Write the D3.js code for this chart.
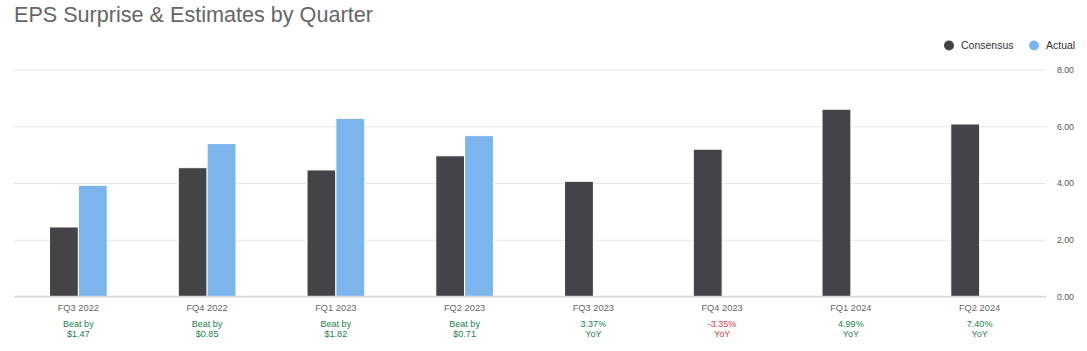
<!DOCTYPE html>
<html>
<head>
<meta charset="utf-8">
<script src="https://cdn.jsdelivr.net/npm/d3@7"></script>
<style>
  body { margin: 0; background: #fff; }
  #chart { width: 1087px; height: 351px; }
  text { font-family: "Liberation Sans", Arial, sans-serif; }
</style>
</head>
<body>
<div id="chart"></div>
<script>
// data
const quarters = ["FQ3 2022", "FQ4 2022", "FQ1 2023", "FQ2 2023", "FQ3 2023", "FQ4 2023", "FQ1 2024", "FQ2 2024"];
const consensus = [2.45, 4.54, 4.46, 4.96, 4.06, 5.19, 6.60, 6.08];
const actual = [3.92, 5.39, 6.28, 5.67, null, null, null, null];
const noteLine1 = ["Beat by", "Beat by", "Beat by", "Beat by", "3.37%", "-3.35%", "4.99%", "7.40%"];
const noteLine2 = ["$1.47", "$0.85", "$1.82", "$0.71", "YoY", "YoY", "YoY", "YoY"];
const noteNegative = [false, false, false, false, false, true, false, false];
const yTicks = [0, 2, 4, 6, 8];
const seriesNames = ["Consensus", "Actual"];
const seriesColors = ["#434348", "#7cb5ec"];

const width = 1087, height = 351;
const margin = { top: 70, right: 43, bottom: 54, left: 14 };

const svg = d3.select("#chart").append("svg")
  .attr("width", width).attr("height", height);

// title
svg.append("text")
  .attr("x", 14).attr("y", 22)
  .attr("font-size", 21.6)
  .attr("fill", "#666")
  .text("EPS Surprise & Estimates by Quarter");

// scales
const x0 = d3.scaleBand()
  .domain(quarters)
  .range([margin.left, width - margin.right])
  .padding(0);

const x1 = d3.scaleBand()
  .domain(seriesNames)
  .range([x0.bandwidth() * 0.276, x0.bandwidth() * 0.724])
  .padding(0);

const y = d3.scaleLinear()
  .domain([0, 8])
  .range([height - margin.bottom - 0.5, margin.top - 0.5]);

// grid + right labels
const yAxis = d3.axisRight(y)
  .tickValues(yTicks)
  .tickSize(-(width - margin.right - margin.left + 2))
  .tickFormat(d3.format(".2f"));

const gy = svg.append("g")
  .attr("transform", `translate(${width - margin.right + 2},0)`)
  .call(yAxis);
gy.select(".domain").remove();
gy.selectAll(".tick line").attr("stroke", "#e6e6e6");
gy.selectAll(".tick text")
  .attr("x", 11)
  .attr("fill", "#555")
  .attr("font-size", 8.7)
  .attr("font-family", "'Liberation Sans', Arial, sans-serif");

// bars
const rows = quarters.map((q, i) => ({ q, values: [consensus[i], actual[i]] }));

const groups = svg.selectAll(".group")
  .data(rows)
  .enter().append("g")
  .attr("transform", (d) => `translate(${x0(d.q)},0)`);

groups.selectAll("rect")
  .data((d) => d.values.map((v, k) => ({ name: seriesNames[k], v, k })).filter((e) => e.v != null))
  .enter().append("rect")
  .attr("x", (d) => x1(d.name))
  .attr("y", (d) => y(d.v))
  .attr("width", x1.bandwidth())
  .attr("height", (d) => y(0) - y(d.v))
  .attr("fill", (d) => seriesColors[d.k])
  .attr("stroke", "#fff")
  .attr("stroke-width", 1);

// baseline
svg.append("line")
  .attr("x1", margin.left).attr("x2", width - margin.right + 2)
  .attr("y1", y(0)).attr("y2", y(0))
  .attr("stroke", "#d6d6d6")
  .attr("stroke-width", 1.5);

// x labels
const xl = svg.append("g");
quarters.forEach((q, i) => {
  const cx = x0(q) + x0.bandwidth() / 2;
  xl.append("text")
    .attr("x", cx).attr("y", 311)
    .attr("text-anchor", "middle")
    .attr("font-size", 9.3)
    .attr("fill", "#666")
    .text(q);
  const col = noteNegative[i] ? "#d2393f" : "#1a7f4b";
  xl.append("text")
    .attr("x", cx).attr("y", 327.3)
    .attr("text-anchor", "middle")
    .attr("font-size", 9)
    .attr("fill", col)
    .text(noteLine1[i]);
  xl.append("text")
    .attr("x", cx).attr("y", 337.3)
    .attr("text-anchor", "middle")
    .attr("font-size", 9)
    .attr("fill", col)
    .text(noteLine2[i]);
});

// legend
const legendX = [949, 1034];
const legend = svg.append("g");
seriesNames.forEach((name, k) => {
  legend.append("circle")
    .attr("cx", legendX[k]).attr("cy", 45.5)
    .attr("r", 5)
    .attr("fill", seriesColors[k]);
  legend.append("text")
    .attr("x", legendX[k] + 12).attr("y", 49.3)
    .attr("font-size", 10.5)
    .attr("fill", "#333")
    .text(name);
});
</script>
</body>
</html>
